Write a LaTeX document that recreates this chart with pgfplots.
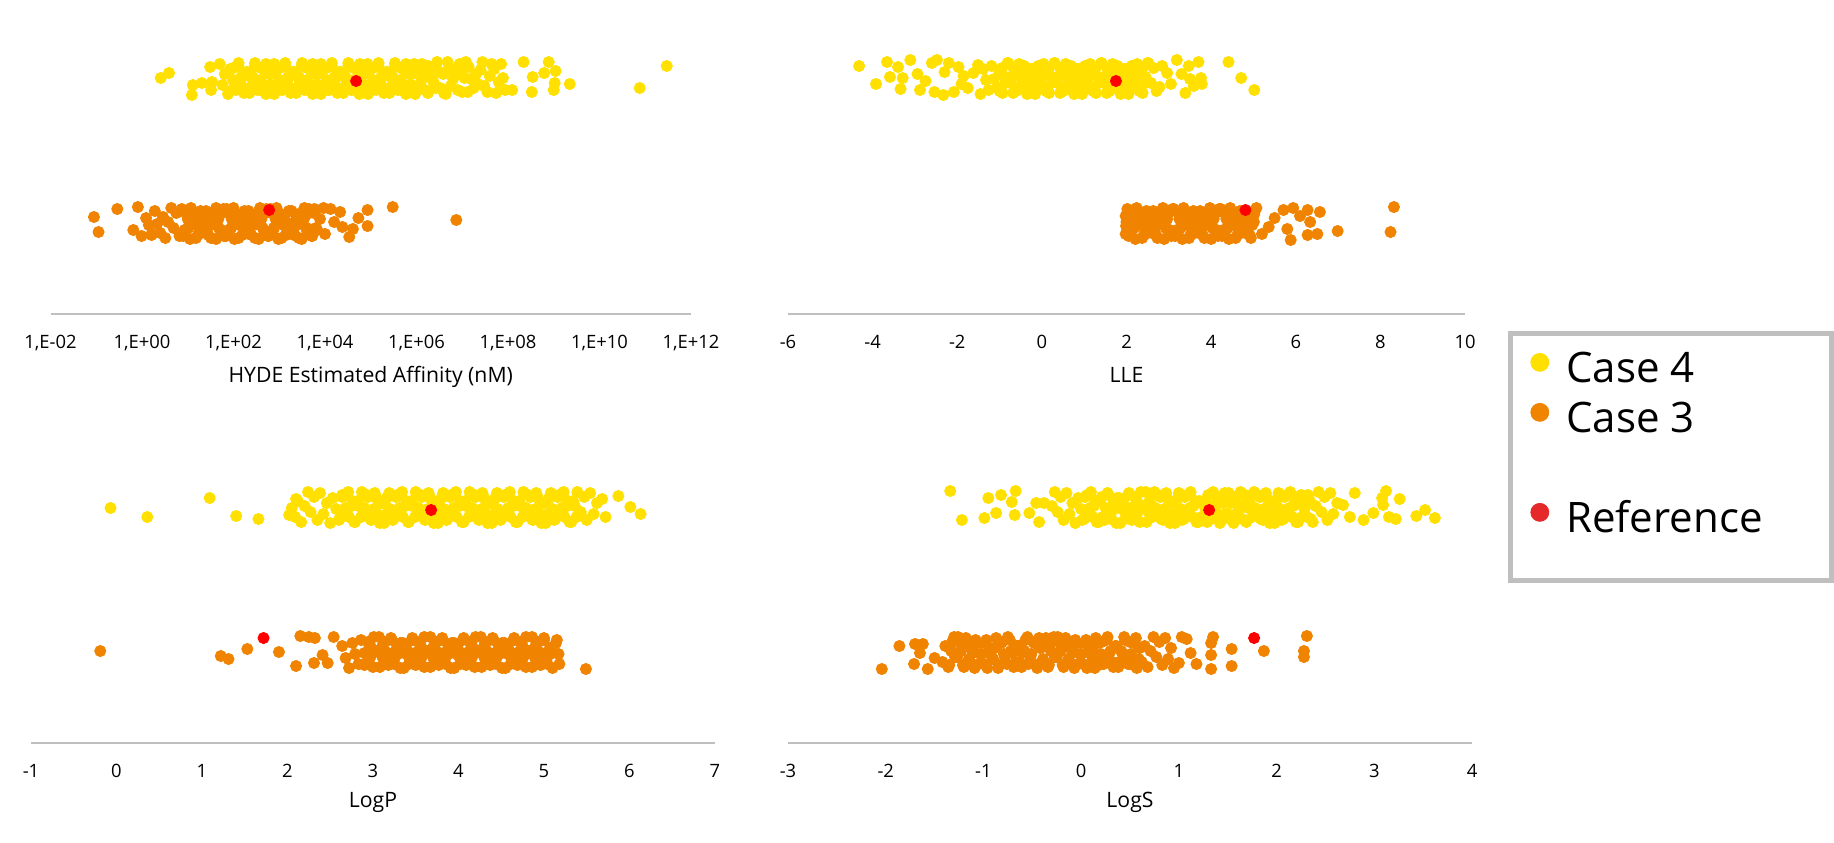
\documentclass[border=0pt]{standalone}
\usepackage{pgfplots}
\pgfplotsset{compat=1.18}
\usepackage{fontspec}
\setmainfont{Open Sans}

\definecolor{caseFour}{HTML}{FFE000}
\definecolor{caseThree}{HTML}{F08300}
\definecolor{refRed}{HTML}{FF0000}
\definecolor{legRed}{HTML}{E5292B}
\definecolor{axisGray}{HTML}{BFBFBF}

% 1px of the reference = 0.5pt; y is "px above the axis line" (jitter rows)
\pgfplotsset{
  strip/.style={
    scale only axis, height=142pt,
    ymin=0, ymax=284,
    hide y axis,
    axis x line*=bottom,
    x axis line style={draw=axisGray, line width=1pt},
    major tick length=0pt,
    xtick style={draw=none},
    /pgf/number format/assume math mode=true,
    xticklabel style={font=\fontsize{9.2}{10}\selectfont, anchor=base, yshift=-17pt},
    every axis x label/.style={at={(axis description cs:0.5,0)}, anchor=base,
      yshift=-34pt, font=\fontsize{10.6}{12}\selectfont},
    clip=false,
  },
  yel/.style={only marks, mark=*, mark size=2.8pt, color=caseFour},
  ora/.style={only marks, mark=*, mark size=2.8pt, color=caseThree},
  refp/.style={only marks, mark=*, mark size=2.8pt, color=refRed},
}

\begin{document}
\begin{tikzpicture}
\useasboundingbox (0,0) rectangle (917pt,-421pt);

% ---------- HYDE affinity (x in log10 nM) ----------
\begin{axis}[strip, at={(25.25pt,-157pt)}, anchor=south west, width=320.25pt,
  xmin=-2, xmax=12, xtick={-2,0,...,12},
  xticklabels={{1,E-02},{1,E+00},{1,E+02},{1,E+04},{1,E+06},{1,E+08},{1,E+10},{1,E+12}},
  xlabel={HYDE Estimated Affinity (nM)}]
\addplot[yel] coordinates {
(0.41,236) (0.59,241) (1.09,219) (1.11,229) (1.31,231) (1.49,247) (1.51,224) (1.53,232)
(1.70,250) (1.76,229) (1.81,240) (1.88,220) (1.93,245) (1.99,234) (2.06,224) (2.11,248) (2.17,235)
(2.24,226) (2.29,242) (2.35,221) (2.42,237) (2.47,251) (2.53,231) (2.60,246) (2.65,223)
(2.71,250) (2.78,229) (2.83,240) (2.89,220) (2.96,245) (3.01,234) (3.07,224) (3.14,248) (3.19,235)
(3.25,226) (3.32,242) (3.37,221) (3.43,237) (3.50,251) (3.55,231) (3.61,246) (3.68,223)
(3.73,250) (3.79,229) (3.86,240) (3.91,220) (3.97,245) (4.04,234) (4.09,224) (4.15,248) (4.22,235)
(4.27,226) (4.33,242) (4.40,221) (4.45,237) (4.51,251) (4.58,231) (4.63,246) (4.69,223)
(4.76,250) (4.81,229) (4.87,240) (4.94,220) (4.99,245) (5.05,234) (5.12,224) (5.17,248) (5.23,235)
(5.30,226) (5.35,242) (5.41,221) (5.48,237) (5.53,251) (5.59,231) (5.66,246) (5.71,223)
(5.77,250) (5.84,229) (5.90,240) (5.97,220) (6.04,245) (6.11,234) (6.19,224) (6.26,248) (6.34,235)
(6.42,226) (6.51,242) (6.60,221)
(1.93,223) (1.99,246) (2.05,231) (2.11,251) (2.17,237) (2.23,221) (2.29,242) (2.35,226) (2.41,235)
(2.47,248) (2.53,224) (2.59,234) (2.65,245) (2.71,220) (2.77,240) (2.83,229) (2.89,250)
(2.95,223) (3.01,246) (3.07,231) (3.13,251) (3.19,237) (3.25,221) (3.31,242) (3.37,226) (3.43,235)
(3.49,248) (3.55,224) (3.61,234) (3.67,245) (3.73,220) (3.79,240) (3.85,229) (3.91,250)
(3.97,223) (4.03,246) (4.09,231) (4.15,251) (4.21,237) (4.27,221) (4.33,242) (4.39,226) (4.45,235)
(4.51,248) (4.57,224) (4.63,234) (4.69,245) (4.75,220) (4.81,240) (4.87,229) (4.93,250)
(4.99,223) (5.05,246) (5.11,231) (5.17,251) (5.23,237) (5.29,221) (5.35,242) (5.41,226) (5.47,235)
(5.53,248) (5.59,224) (5.65,234) (5.71,245) (5.77,220) (5.83,240) (5.89,229) (5.95,250)
(6.05,226) (6.12,250) (6.18,238) (6.25,221) (6.31,245) (6.38,231) (6.45,252) (6.52,226) (6.58,240)
(6.64,220) (6.72,246) (6.80,235) (6.90,224) (6.98,242) (7.08,252) (7.12,222) (7.30,240) (7.48,228)
(7.60,238) (7.70,245) (7.85,250)
(6.68,252) (6.75,228) (6.85,240) (6.94,250) (7.00,222) (7.05,236) (7.14,247) (7.19,235) (7.25,226)
(7.34,230) (7.40,244) (7.44,252) (7.55,222) (7.64,250) (7.74,221) (7.80,232) (7.89,236) (7.94,224)
(8.09,224) (8.34,252) (8.52,222) (8.54,237) (8.79,241) (8.89,252) (9.04,243) (9.02,231) (9.00,224)
(9.35,230) (10.88,226) (11.47,248)
};
\addplot[ora] coordinates {
(-1.05,97) (-0.95,82) (-0.54,105) (-0.19,84) (-0.09,107) (-0.01,78) (0.09,96) (0.21,80)
(0.15,89) (0.21,79) (0.28,103) (0.33,90) (0.40,81) (0.46,97) (0.51,76) (0.57,92) (0.64,106)
(0.69,86) (0.75,101) (0.82,78) (0.87,105) (0.93,84) (1.00,95) (1.05,75) (1.11,100)
(1.17,89) (1.22,79) (1.28,103) (1.34,90) (1.39,81) (1.45,97) (1.51,76) (1.56,92) (1.62,106)
(1.68,86) (1.73,101) (1.79,78) (1.85,105) (1.90,84) (1.96,95) (2.02,75) (2.07,100)
(2.13,89) (2.19,79) (2.24,103) (2.30,90) (2.36,81) (2.41,97) (2.47,76) (2.53,92) (2.58,106)
(2.64,86) (2.70,101) (2.75,78) (2.81,105) (2.87,84) (2.92,95) (2.98,75) (3.04,100)
(3.09,89) (3.15,79) (3.21,103) (3.26,90) (3.32,81) (3.38,97) (3.43,76) (3.49,92) (3.55,106)
(3.60,86) (3.66,101) (3.72,78) (3.77,105) (3.83,84) (3.89,95)
(0.90,78) (0.96,101) (1.01,86) (1.07,106) (1.12,92) (1.18,76) (1.23,97) (1.29,81) (1.34,90)
(1.40,103) (1.45,79) (1.51,89) (1.56,100) (1.62,75) (1.67,95) (1.73,84) (1.78,105)
(1.84,78) (1.89,101) (1.95,86) (2.00,106) (2.06,92) (2.11,76) (2.17,97) (2.22,81) (2.28,90)
(2.33,103) (2.39,79) (2.44,89) (2.50,100) (2.55,75) (2.61,95) (2.66,84) (2.72,105)
(2.77,78) (2.83,101) (2.88,86) (2.94,106) (2.99,92) (3.05,76) (3.10,97) (3.16,81) (3.21,90)
(3.27,103) (3.32,79) (3.38,89) (3.43,100) (3.49,75) (3.54,95) (3.60,84) (3.65,105)
(3.71,78) (3.76,101) (3.80,86)
(3.97,106) (4.00,80) (4.12,105) (4.20,92) (4.33,102) (4.38,87) (4.53,77) (4.61,85) (4.73,96)
(4.93,104) (4.93,88) (5.48,107) (6.87,94)
};
\addplot[refp] coordinates {(4.68,233) (2.78,104)};
\end{axis}

% ---------- LLE ----------
\begin{axis}[strip, at={(394pt,-157pt)}, anchor=south west, width=338.5pt,
  xmin=-6, xmax=10, xtick={-6,-4,...,10}, xlabel={LLE}]
\addplot[yel] coordinates {
(-4.32,248) (-3.92,230) (-3.66,252) (-3.59,237) (-3.40,247) (-3.34,225) (-3.29,236) (-3.11,254)
(-2.94,240) (-2.88,224) (-2.75,233) (-2.60,251) (-2.54,222) (-2.48,254) (-2.33,219) (-2.30,242)
(-2.20,251) (-2.08,222) (-1.97,247) (-1.90,230) (-1.85,238) (-1.75,226) (-1.62,241) (-1.51,249)
(-1.45,220) (-1.39,245) (-1.32,234) (-1.26,224) (-1.19,248) (-1.13,235) (-1.06,226) (-1.00,242)
(-0.93,221) (-0.87,237) (-0.80,251) (-0.74,231) (-0.67,246) (-0.61,223) (-0.54,250) (-0.48,229)
(-0.41,240) (-0.35,220) (-0.28,245) (-0.22,234) (-0.15,224) (-0.09,248) (-0.02,235) (0.04,226)
(0.11,242) (0.17,221) (0.24,237) (0.30,251) (0.37,231) (0.43,246) (0.50,223) (0.56,250)
(0.63,229) (0.69,240) (0.76,220) (0.82,245) (0.89,234) (0.95,224) (1.02,248) (1.08,235)
(1.15,226) (1.21,242) (1.28,221) (1.34,237) (1.41,251) (1.47,231) (1.54,246) (1.60,223)
(1.67,250) (1.73,229) (1.80,240) (1.86,220) (1.93,245) (1.99,234) (2.06,224) (2.12,248)
(2.19,235) (2.25,226) (2.32,242) (2.38,221) (2.45,237) (2.51,251) (2.58,231) (2.64,246) (2.71,223)
(-1.00,223) (-0.94,246) (-0.87,231) (-0.81,251) (-0.74,237) (-0.68,221) (-0.61,242) (-0.55,226)
(-0.48,235) (-0.42,248) (-0.35,224) (-0.29,234) (-0.22,245) (-0.16,220) (-0.09,240) (-0.03,229) (0.04,250)
(0.10,223) (0.17,246) (0.23,231) (0.30,251) (0.36,237) (0.43,221) (0.49,242) (0.56,226) (0.62,235)
(0.69,248) (0.75,224) (0.82,234) (0.88,245) (0.95,220) (1.01,240) (1.08,229) (1.14,250)
(1.21,223) (1.27,246) (1.34,231) (1.40,251) (1.47,237) (1.53,221) (1.60,242) (1.66,226) (1.73,235)
(1.79,248) (1.86,224) (1.92,234) (1.99,245) (2.05,220) (2.12,240) (2.18,229) (2.25,250)
(2.31,223) (2.38,246) (2.44,231) (2.50,251)
(2.78,227) (2.84,248) (2.96,241) (3.05,230) (3.19,254) (3.30,240) (3.39,221) (3.47,248) (3.50,235)
(3.59,228) (3.70,252) (3.76,236) (3.78,230) (4.41,252) (4.71,236) (5.02,224)
};
\addplot[ora] coordinates {
(1.98,98) (1.99,88) (1.98,80) (2.00,92)
(2.02,105) (2.08,84) (2.15,95) (2.21,75) (2.28,100) (2.34,89) (2.41,79) (2.47,103) (2.54,90)
(2.60,81) (2.67,97) (2.73,76) (2.80,92) (2.86,106) (2.93,86) (2.99,101) (3.06,78)
(3.12,105) (3.19,84) (3.25,95) (3.32,75) (3.38,100) (3.45,89) (3.51,79) (3.58,103) (3.64,90)
(3.71,81) (3.77,97) (3.84,76) (3.90,92) (3.97,106) (4.03,86) (4.10,101) (4.16,78)
(4.23,105) (4.29,84) (4.36,95) (4.42,75) (4.49,100) (4.55,89) (4.62,79) (4.68,103) (4.75,90)
(4.81,81) (4.88,97) (4.94,76) (5.01,92) (5.07,106)
(2.05,78) (2.11,101) (2.18,86) (2.24,106) (2.31,92) (2.37,76) (2.44,97) (2.50,81) (2.57,90)
(2.63,103) (2.70,79) (2.76,89) (2.83,100) (2.89,75) (2.96,95) (3.02,84) (3.09,105)
(3.15,78) (3.22,101) (3.28,86) (3.35,106) (3.41,92) (3.48,76) (3.54,97) (3.61,81) (3.67,90)
(3.74,103) (3.80,79) (3.87,89) (3.93,100) (4.00,75) (4.06,95) (4.13,84) (4.19,105)
(4.26,78) (4.32,101) (4.39,86) (4.45,106) (4.52,92) (4.58,76) (4.65,97) (4.71,81) (4.78,90)
(4.84,103) (4.91,79) (4.97,89) (5.02,100)
(5.20,80) (5.36,87) (5.50,96) (5.71,104) (5.80,85) (5.88,74) (5.94,106) (6.10,98) (6.28,104)
(6.28,79) (6.34,92) (6.51,80) (6.57,102) (6.99,83) (8.24,82) (8.32,107)
};
\addplot[refp] coordinates {(1.75,233) (4.81,104)};
\end{axis}

% ---------- LogP ----------
\begin{axis}[strip, at={(15.5pt,-371.5pt)}, anchor=south west, width=342pt,
  xmin=-1, xmax=7, xtick={-1,0,...,7}, xlabel={LogP},
  every axis x label/.append style={yshift=2pt}]
\addplot[yel] coordinates {
(-0.07,235) (0.36,226) (1.09,245) (1.40,227) (1.66,224) (2.02,228) (2.10,244)
(2.05,235) (2.09,226) (2.12,242) (2.16,221) (2.20,237) (2.24,251) (2.27,231) (2.31,246) (2.35,223)
(2.38,250) (2.42,229) (2.46,240) (2.50,220) (2.53,245) (2.57,234) (2.61,224) (2.64,248)
(2.68,235) (2.72,226) (2.76,242) (2.79,221) (2.83,237) (2.87,251) (2.90,231) (2.94,246) (2.98,223)
(3.02,250) (3.05,229) (3.09,240) (3.13,220) (3.16,245) (3.20,234) (3.24,224)
(3.28,248) (3.31,235) (3.35,226) (3.39,242) (3.42,221) (3.46,237) (3.50,251) (3.54,231) (3.57,246)
(3.61,223) (3.65,250) (3.68,229) (3.72,240) (3.76,220) (3.80,245) (3.83,234) (3.87,224)
(3.91,248) (3.94,235) (3.98,226) (4.02,242) (4.06,221) (4.09,237) (4.13,251) (4.17,231) (4.20,246)
(4.24,223) (4.28,250) (4.32,229) (4.35,240) (4.39,220) (4.43,245) (4.46,234) (4.50,224)
(4.54,248) (4.58,235) (4.61,226) (4.65,242) (4.69,221) (4.72,237) (4.76,251) (4.80,231) (4.84,246)
(4.87,223) (4.91,250) (4.95,229) (4.98,240) (5.02,220) (5.06,245) (5.10,234) (5.13,224)
(5.17,248) (5.21,235) (5.24,226) (5.28,242) (5.32,221) (5.36,237) (5.39,251) (5.43,231) (5.47,246)
(5.50,223) (5.54,250) (5.58,229) (5.62,240)
(2.60,223) (2.64,246) (2.67,231) (2.71,251) (2.75,237) (2.78,221) (2.82,242) (2.86,226) (2.90,235)
(2.93,248) (2.97,224) (3.01,234) (3.04,245) (3.08,220) (3.12,240) (3.16,229) (3.19,250)
(3.23,223) (3.27,246) (3.30,231) (3.34,251) (3.38,237) (3.41,221) (3.45,242) (3.49,226) (3.53,235)
(3.56,248) (3.60,224) (3.64,234) (3.67,245) (3.71,220) (3.75,240) (3.79,229) (3.82,250)
(3.86,223) (3.90,246) (3.93,231) (3.97,251) (4.01,237) (4.04,221) (4.08,242) (4.12,226) (4.16,235)
(4.19,248) (4.23,224) (4.27,234) (4.30,245) (4.34,220) (4.38,240) (4.42,229) (4.45,250)
(4.49,223) (4.53,246) (4.56,231) (4.60,251) (4.64,237) (4.67,221) (4.71,242) (4.75,226) (4.79,235)
(4.82,248) (4.86,224) (4.90,234) (4.93,245) (4.97,220) (5.01,240) (5.05,229) (5.08,250)
(5.12,223) (5.16,246) (5.19,231) (5.23,251) (5.27,237) (5.30,221) (5.34,242) (5.38,226)
(5.68,244) (5.72,226) (5.87,247) (6.01,236) (6.13,229)
};
\addplot[ora] coordinates {
(-0.19,92) (1.22,87) (1.31,84) (1.53,94) (1.90,91) (2.10,77) (2.15,107) (2.25,106) (2.32,105)
(2.31,80) (2.41,88) (2.47,80) (2.54,106) (2.64,97) (2.68,85)
(2.72,75) (2.76,100) (2.79,89) (2.83,79) (2.86,103) (2.90,90) (2.93,81) (2.97,97) (3.00,76)
(3.04,92) (3.07,106) (3.11,86) (3.14,101) (3.18,78) (3.21,105) (3.25,84) (3.28,95)
(3.32,75) (3.35,100) (3.39,89) (3.42,79) (3.46,103) (3.49,90) (3.53,81) (3.56,97) (3.60,76)
(3.63,92) (3.67,106) (3.70,86) (3.74,101) (3.77,78) (3.81,105) (3.84,84) (3.88,95)
(3.91,75) (3.95,100) (3.98,89) (4.02,79) (4.05,103) (4.09,90) (4.12,81) (4.16,97) (4.19,76)
(4.23,92) (4.26,106) (4.30,86) (4.33,101) (4.37,78) (4.40,105) (4.44,84) (4.47,95)
(4.51,75) (4.54,100) (4.58,89) (4.61,79) (4.65,103) (4.68,90) (4.72,81) (4.75,97) (4.79,76)
(4.82,92) (4.86,106) (4.89,86) (4.93,101) (4.96,78) (5.00,105) (5.03,84) (5.07,95)
(5.10,75) (5.14,100) (5.17,89) (5.18,79) (5.15,103)
(2.90,78) (2.94,101) (2.97,86) (3.01,106) (3.04,92) (3.08,76) (3.11,97) (3.15,81) (3.18,90)
(3.22,103) (3.25,79) (3.29,89) (3.32,100) (3.36,75) (3.39,95) (3.43,84) (3.46,105)
(3.50,78) (3.53,101) (3.57,86) (3.60,106) (3.64,92) (3.67,76) (3.71,97) (3.74,81) (3.78,90)
(3.81,103) (3.85,79) (3.88,89) (3.92,100) (3.95,75) (3.99,95) (4.02,84) (4.06,105)
(4.09,78) (4.13,101) (4.16,86) (4.20,106) (4.23,92) (4.27,76) (4.30,97) (4.34,81) (4.37,90)
(4.41,103) (4.44,79) (4.48,89) (4.51,100) (4.55,75) (4.58,95) (4.62,84) (4.65,105)
(4.69,78) (4.72,101) (4.76,86) (4.79,106) (4.83,92) (4.86,76) (4.90,97) (4.93,81) (4.97,90)
(5.00,103) (5.04,79) (5.07,89)
(5.49,74)
};
\addplot[refp] coordinates {(3.68,233) (1.72,105)};
\end{axis}

% ---------- LogS (carries the legend) ----------
\begin{axis}[strip, at={(394pt,-371.5pt)}, anchor=south west, width=342pt,
  xmin=-3, xmax=4, xtick={-3,-2,...,4}, xlabel={LogS},
  every axis x label/.append style={yshift=2pt},
  legend style={at={(1.0848,1.377)}, anchor=north west, draw=none, fill=none,
    inner sep=0pt, row sep=0pt, column sep=8.5pt,
    font=\fontsize{21}{25}\selectfont,
    nodes={inner sep=0pt, text height=15pt, text depth=10pt}},
  legend cell align=left]
\addplot[yel, forget plot] coordinates {
(-1.34,252) (-1.22,223) (-0.99,225) (-0.95,245) (-0.87,230) (-0.82,248) (-0.71,241) (-0.67,252)
(-0.68,228) (-0.53,230) (-0.46,240) (-0.43,221) (-0.38,240)
(-0.30,237) (-0.27,251) (-0.24,231) (-0.21,246) (-0.18,223) (-0.15,250) (-0.12,229) (-0.09,240)
(-0.06,220) (-0.03,245) (0.00,234) (0.03,224) (0.06,248) (0.09,235) (0.12,226) (0.15,242) (0.18,221)
(0.21,246) (0.24,223) (0.27,250) (0.30,229) (0.33,240) (0.36,220) (0.39,245) (0.42,234)
(0.45,224) (0.48,248) (0.51,235) (0.54,226) (0.57,242) (0.60,221) (0.63,237) (0.66,251) (0.69,231)
(0.72,237) (0.75,251) (0.78,231) (0.81,246) (0.84,223) (0.87,250) (0.90,229) (0.93,240)
(0.96,220) (0.99,245) (1.02,234) (1.05,224) (1.08,248) (1.11,235) (1.14,226) (1.17,242) (1.20,221)
(1.23,226) (1.26,242) (1.29,221) (1.32,237) (1.35,251) (1.38,231) (1.41,246) (1.44,223)
(1.47,250) (1.50,229) (1.53,240) (1.56,220) (1.59,245) (1.62,234) (1.65,224) (1.68,248) (1.71,235)
(1.74,237) (1.77,251) (1.80,231) (1.83,246) (1.86,223) (1.89,250) (1.92,229) (1.95,240)
(1.98,220) (2.01,245) (2.04,234) (2.07,224) (2.10,248) (2.13,235) (2.16,226) (2.19,242) (2.22,221)
(2.25,248) (2.28,235) (2.31,226) (2.34,242) (2.37,221) (2.40,237) (2.43,251) (2.46,231)
(2.49,246) (2.52,223) (2.55,250) (2.58,229) (2.62,240)
(0.01,223) (0.04,246) (0.07,231) (0.10,251) (0.13,237) (0.16,221) (0.19,242) (0.22,226) (0.25,235)
(0.28,248) (0.31,224) (0.34,234) (0.37,245) (0.40,220) (0.43,240) (0.46,229) (0.49,250)
(0.52,223) (0.55,246) (0.58,231) (0.61,251) (0.64,237) (0.67,221) (0.70,242) (0.73,226) (0.76,235)
(0.79,248) (0.82,224) (0.85,234) (0.88,245) (0.91,220) (0.94,240) (0.97,229) (1.00,250)
(1.03,223) (1.06,246) (1.09,231) (1.12,251) (1.15,237) (1.18,221) (1.21,242) (1.24,226) (1.27,235)
(1.30,248) (1.33,224) (1.36,234) (1.39,245) (1.42,220) (1.45,240) (1.48,229) (1.51,250)
(1.54,223) (1.57,246) (1.60,231) (1.63,251) (1.66,237) (1.69,221) (1.72,242) (1.75,226) (1.78,235)
(1.81,248) (1.84,224) (1.87,234) (1.90,245) (1.93,220) (1.96,240) (1.99,229) (2.02,250)
(2.05,223) (2.08,246) (2.11,231) (2.14,251) (2.17,237) (2.20,221) (2.23,242) (2.26,226) (2.29,235)
(2.32,248) (2.35,224)
(2.68,238) (2.75,226) (2.80,250) (2.89,223) (2.99,230) (3.08,245) (3.12,252) (3.09,238) (3.15,226)
(3.22,224) (3.26,244) (3.43,227) (3.52,233) (3.62,225)
};
\addplot[ora, forget plot] coordinates {
(-2.04,74) (-1.86,97) (-1.70,99) (-1.71,79) (-1.62,99) (-1.57,74) (-1.65,90) (-1.50,85)
(-1.42,81) (-1.39,97) (-1.36,76) (-1.33,92) (-1.30,106) (-1.27,86) (-1.24,101) (-1.21,78)
(-1.18,105) (-1.15,84) (-1.12,95) (-1.09,75) (-1.06,100) (-1.03,89) (-1.00,79) (-0.97,103) (-0.94,90)
(-0.91,84) (-0.88,95) (-0.85,75) (-0.82,100) (-0.79,89) (-0.76,79) (-0.73,103) (-0.70,90)
(-0.67,81) (-0.64,97) (-0.61,76) (-0.58,92) (-0.55,106) (-0.52,86) (-0.49,101) (-0.46,78) (-0.43,105)
(-0.40,81) (-0.37,97) (-0.34,76) (-0.31,92) (-0.28,106) (-0.25,86) (-0.22,101) (-0.19,78)
(-0.16,105) (-0.13,84) (-0.10,95) (-0.07,75) (-0.04,100) (-0.01,89) (0.02,79) (0.05,103) (0.08,90)
(0.11,95) (0.14,75) (0.17,100) (0.20,89) (0.23,79) (0.26,103) (0.29,90) (0.32,81)
(0.35,97) (0.38,76) (0.41,92) (0.44,106) (0.47,86) (0.50,101) (0.53,78) (0.56,105) (0.59,84)
(0.62,81) (0.65,97) (0.68,76) (0.71,92) (0.74,106) (0.77,86) (0.80,101) (0.83,78)
(0.86,105) (0.89,84) (0.92,95) (0.95,75)
(-1.35,78) (-1.32,101) (-1.29,86) (-1.26,106) (-1.23,92) (-1.20,76) (-1.17,97) (-1.14,81) (-1.11,90)
(-1.08,103) (-1.05,79) (-1.02,89) (-0.99,100) (-0.96,75) (-0.93,95) (-0.90,84) (-0.87,105)
(-0.84,78) (-0.81,101) (-0.78,86) (-0.75,106) (-0.72,92) (-0.69,76) (-0.66,97) (-0.63,81) (-0.60,90)
(-0.57,103) (-0.54,79) (-0.51,89) (-0.48,100) (-0.45,75) (-0.42,95) (-0.39,84) (-0.36,105)
(-0.33,78) (-0.30,101) (-0.27,86) (-0.24,106) (-0.21,92) (-0.18,76) (-0.15,97) (-0.12,81) (-0.09,90)
(-0.06,103) (-0.03,79) (0.00,89) (0.03,100) (0.06,75) (0.09,95) (0.12,84) (0.15,105)
(0.18,78) (0.21,101) (0.24,86) (0.27,106) (0.30,92) (0.33,76) (0.36,97) (0.39,81) (0.42,90)
(0.45,103) (0.48,79) (0.51,89) (0.54,100) (0.57,75) (0.60,95)
(1.00,80) (1.03,106) (1.08,104) (1.12,90) (1.18,79) (1.33,100) (1.33,88) (1.33,74) (1.35,106)
(1.54,94) (1.54,77) (1.87,92) (2.28,92) (2.28,86) (2.31,107)
};
\addplot[refp, forget plot] coordinates {(1.31,233) (1.77,105)};
\addlegendimage{legend image code/.code={\fill[caseFour] (4.5pt,7.5pt) circle (4.5pt);}}
\addlegendentry{Case 4}
\addlegendimage{legend image code/.code={\fill[caseThree] (4.5pt,7.5pt) circle (4.5pt);}}
\addlegendentry{Case 3}
\addlegendimage{empty legend}
\addlegendentry{}
\addlegendimage{legend image code/.code={\fill[legRed] (4.5pt,7.5pt) circle (4.5pt);}}
\addlegendentry{Reference}
\end{axis}

\draw[axisGray, line width=2.5pt] (755pt,-166.5pt) rectangle (915.5pt,-290pt);
\end{tikzpicture}
\end{document}
